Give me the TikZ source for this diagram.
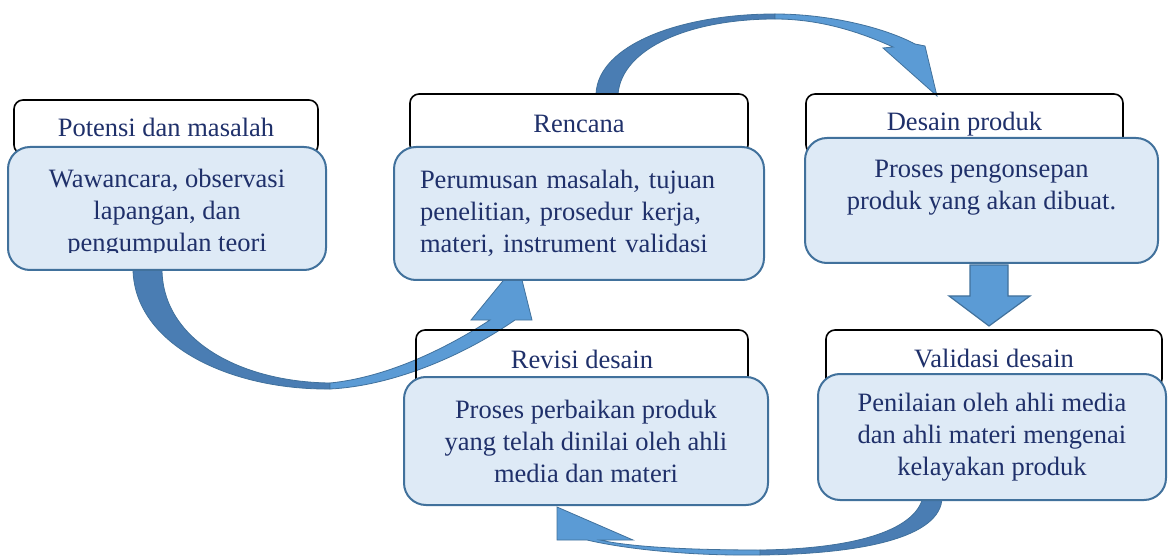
\documentclass[tikz,border=0pt]{standalone}
\usepackage{fontspec}
\setmainfont{Liberation Serif}
\usepackage{tikz}

\definecolor{ink}{HTML}{1F306A}
\definecolor{boxfill}{HTML}{DEEAF6}
\definecolor{boxline}{HTML}{41719C}
\definecolor{arrowlight}{HTML}{5B9BD5}
\definecolor{arrowdark}{HTML}{4A7DB3}

\begin{document}
\begin{tikzpicture}[
        x=1pt, y=-1pt,
        every node/.style = {font=\fontsize{26.5}{32}\selectfont, text=ink, inner sep=0pt},
        headbox/.style = {draw=black, line width=1.6pt, rounded corners=9pt},
        bodybox/.style = {draw=boxline, fill=boxfill, line width=2pt, rounded corners=22pt, align=center},
        backpart/.style = {fill=arrowdark, draw=boxline, line width=0.8pt},
        frontpart/.style = {fill=arrowlight, draw=boxline, line width=0.8pt}
    ]
    \useasboundingbox (0,0) rectangle (1168,556);

    % curved arrow Potensi -> Rencana
    \path[backpart] (133,262) -- (133,270) .. controls (135,345) and (230,390) .. (330,389)
        -- (330,383) .. controls (240,382) and (163,340) .. (162,270) -- (162,262) -- cycle;
    \path[frontpart] (330,389) .. controls (390,386) and (460,358) .. (515,320)
        -- (532,320) -- (521,276) -- (507,276) -- (471,320) -- (490,320)
        .. controls (450,346) and (390,377) .. (330,383) -- cycle;

    % curved arrow Rencana -> Desain produk
    \path[backpart] (596,94) .. controls (598,45) and (680,14) .. (775,14)
        -- (775,19) .. controls (690,19) and (622,48) .. (618,94) -- cycle;
    \path[frontpart] (775,14) .. controls (830,14) and (885,28) .. (915,44)
        -- (925,46) -- (937,96) -- (883,48) -- (893,47)
        .. controls (860,32) and (820,19) .. (775,19) -- cycle;

    % curved arrow Validasi -> Revisi
    \path[backpart] (942,497) .. controls (942,538) and (860,554) .. (760,555)
        -- (760,550) .. controls (850,549) and (915,532) .. (923,497) -- cycle;
    \path[frontpart] (760,555) .. controls (690,556) and (625,549) .. (587,540)
        -- (557,540) -- (557,507) -- (633,540) -- (600,540)
        .. controls (630,547) and (690,550) .. (760,550) -- cycle;

    % block arrow Desain -> Validasi
    \path[frontpart, line width=1.2pt] (970,265) -- (1008,265) -- (1008,296) -- (1030,296)
        -- (989,326) -- (949,296) -- (970,296) -- cycle;

    % stage titles
    \node[headbox, minimum width=304pt, minimum height=54pt] (potensi) at (166,127) {Potensi dan masalah};
    \node[headbox, minimum width=338pt, minimum height=60pt] (rencana) at (579,124) {Rencana};
    \node[headbox, minimum width=317pt, minimum height=60pt] (desain) at (964.5,124) {Desain produk};
    \node[headbox, minimum width=336pt, minimum height=58pt] (validasi) at (994,359) {Validasi desain};
    \node[headbox, minimum width=332pt, minimum height=58pt] (revisi) at (582,359) {Revisi desain};

    % stage contents
    \node[bodybox, minimum width=318pt, minimum height=123pt] (potensibody) at (167,208.5) {};
    \begin{scope}
        \clip (potensibody.north west) rectangle ([yshift=18pt]potensibody.south east);
        \node[align=center] (potensitext) at (167,213) {Wawancara, observasi\\lapangan, dan\\pengumpulan teori};
    \end{scope}
    \node[bodybox, minimum height=133pt, text width=318pt, inner xsep=26pt, align=left] (rencanabody) at (579,213.5)
        {Perumusan masalah, tujuan\\penelitian, prosedur kerja,\\materi, instrument validasi};
    \node[bodybox, minimum width=353pt, minimum height=125pt] (desainbody) at (981.5,200.5)
        {Proses pengonsepan\\produk yang akan dibuat.\\\mbox{}};
    \node[bodybox, minimum width=348pt, minimum height=126pt] (validasibody) at (992,437)
        {Penilaian oleh ahli media\\dan ahli materi mengenai\\kelayakan produk};
    \node[bodybox, minimum width=364pt, minimum height=128pt] (revisibody) at (586,441)
        {Proses perbaikan produk\\yang telah dinilai oleh ahli\\media dan materi};

\end{tikzpicture}
\end{document}
